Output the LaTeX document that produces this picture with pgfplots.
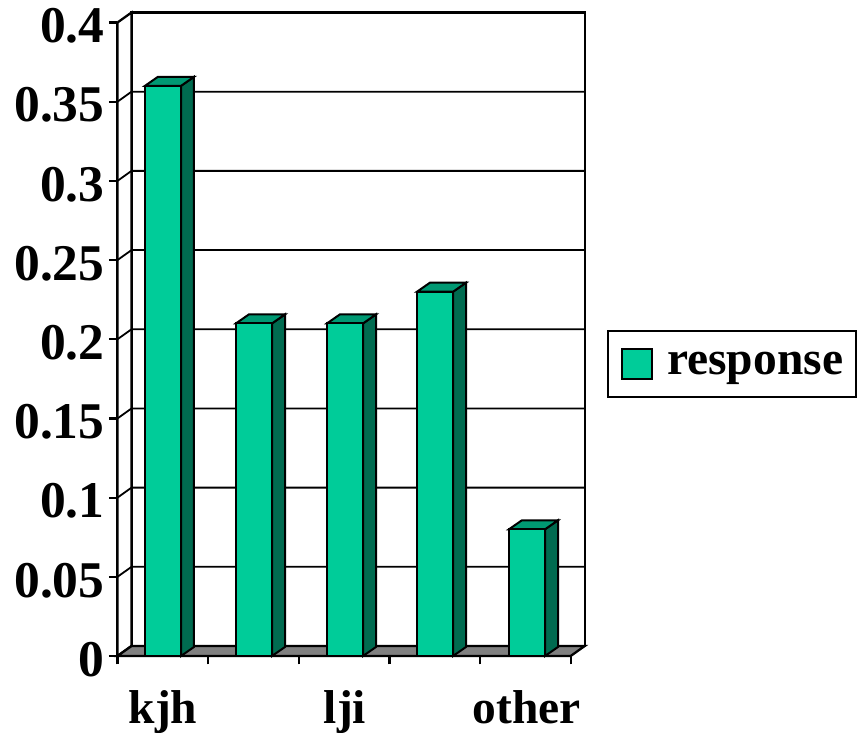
\documentclass[border=0pt]{standalone}
\usepackage{fontspec}
\setmainfont{Liberation Serif}
\usepackage{pgfplots}
\pgfplotsset{compat=1.18}
\definecolor{front}{RGB}{0,204,153}
\definecolor{side}{RGB}{0,107,80}
\definecolor{topf}{RGB}{0,153,115}
\begin{document}
\begin{tikzpicture}
\path (-117.5pt,-77pt) rectangle (742.5pt,656pt);
\begin{axis}[
  at={(0pt,0pt)}, anchor=origin,
  scale only axis, width=453.2pt, height=633.5pt,
  xmin=0, xmax=5, ymin=0, ymax=0.4,
  clip=false,
  axis x line*=bottom, axis y line*=left,
  axis line style={line width=2.3pt,-},
  tick align=outside,
  tick style={black,line width=2.2pt},
  major tick length=8.5pt,
  ytick={0,0.05,0.1,0.15,0.2,0.25,0.3,0.35,0.4},
  yticklabels={0,0.05,0.1,0.15,0.2,0.25,0.3,0.35,0.4},
  y tick label style={font=\fontsize{51.5}{51.5}\selectfont\bfseries, xshift=-1pt, yshift=-3.5pt},
  xtick={0,1,2,3,4,5},
  xticklabels={},
  extra x ticks={0.502,2.51,4.518},
  extra x tick labels={kjh,lji,other},
  extra x tick style={major tick length=0pt, tick style={draw=none}},
  x tick label style={font=\fontsize{47.5}{47.5}\selectfont\bfseries, text height=32pt, text depth=0pt, inner sep=0pt, yshift=-35pt},
  legend style={at={(1.0794,0.5146)}, anchor=north west, draw=black, line width=2pt,
    font=\fontsize{47.5}{47.5}\selectfont\bfseries, inner xsep=10.5pt, inner ysep=17pt, cells={anchor=west}},
  legend image code/.code={\path (0pt,0pt) (45pt,0pt); \draw[fill=front,draw=black,line width=2pt] (3pt,-15pt) rectangle (33pt,15pt);},
  legend cell align=left,
]
% walls
\addplot[forget plot, fill=white, draw=black, line width=2.3pt] coordinates {(0.1545,0.0063)(5.1545,0.0063)(5.1545,0.4063)(0.1545,0.4063)} -- cycle;
\addplot[forget plot, fill=white, draw=black, line width=2.3pt] coordinates {(0,0)(0.1545,0.0063)(0.1545,0.4063)(0,0.4)} -- cycle;
% grid
\addplot[forget plot, black, line width=1.8pt] coordinates {(0,0.05)(0.1545,0.0563)(5.1545,0.0563)};
\addplot[forget plot, black, line width=1.8pt] coordinates {(0,0.10)(0.1545,0.1063)(5.1545,0.1063)};
\addplot[forget plot, black, line width=1.8pt] coordinates {(0,0.15)(0.1545,0.1563)(5.1545,0.1563)};
\addplot[forget plot, black, line width=1.8pt] coordinates {(0,0.20)(0.1545,0.2063)(5.1545,0.2063)};
\addplot[forget plot, black, line width=1.8pt] coordinates {(0,0.25)(0.1545,0.2563)(5.1545,0.2563)};
\addplot[forget plot, black, line width=1.8pt] coordinates {(0,0.30)(0.1545,0.3063)(5.1545,0.3063)};
\addplot[forget plot, black, line width=1.8pt] coordinates {(0,0.35)(0.1545,0.3563)(5.1545,0.3563)};
% floor
\addplot[forget plot, fill=gray, draw=black, line width=2.3pt] coordinates {(0,0)(5,0)(5.1545,0.0063)(0.1545,0.0063)} -- cycle;
% bar sides
\addplot[forget plot, fill=side, draw=black, line width=2pt] coordinates {(0.701,0)(0.844,0.0057)(0.844,0.3657)(0.701,0.36)} -- cycle;
\addplot[forget plot, fill=side, draw=black, line width=2pt] coordinates {(1.705,0)(1.848,0.0057)(1.848,0.2157)(1.705,0.21)} -- cycle;
\addplot[forget plot, fill=side, draw=black, line width=2pt] coordinates {(2.709,0)(2.852,0.0057)(2.852,0.2157)(2.709,0.21)} -- cycle;
\addplot[forget plot, fill=side, draw=black, line width=2pt] coordinates {(3.702,0)(3.845,0.0057)(3.845,0.2357)(3.702,0.23)} -- cycle;
\addplot[forget plot, fill=side, draw=black, line width=2pt] coordinates {(4.717,0)(4.860,0.0057)(4.860,0.0857)(4.717,0.08)} -- cycle;
% bar tops
\addplot[forget plot, fill=topf, draw=black, line width=2pt] coordinates {(0.303,0.36)(0.701,0.36)(0.844,0.3657)(0.446,0.3657)} -- cycle;
\addplot[forget plot, fill=topf, draw=black, line width=2pt] coordinates {(1.307,0.21)(1.705,0.21)(1.848,0.2157)(1.450,0.2157)} -- cycle;
\addplot[forget plot, fill=topf, draw=black, line width=2pt] coordinates {(2.311,0.21)(2.709,0.21)(2.852,0.2157)(2.454,0.2157)} -- cycle;
\addplot[forget plot, fill=topf, draw=black, line width=2pt] coordinates {(3.304,0.23)(3.702,0.23)(3.845,0.2357)(3.447,0.2357)} -- cycle;
\addplot[forget plot, fill=topf, draw=black, line width=2pt] coordinates {(4.319,0.08)(4.717,0.08)(4.860,0.0857)(4.462,0.0857)} -- cycle;
% bar fronts
\addplot[ybar, bar width=36pt, fill=front, draw=black, line width=2pt] coordinates {(0.502,0.36)(1.506,0.21)(2.51,0.21)(3.503,0.23)(4.518,0.08)};
\addlegendentry{response}
\end{axis}
\end{tikzpicture}
\end{document}
